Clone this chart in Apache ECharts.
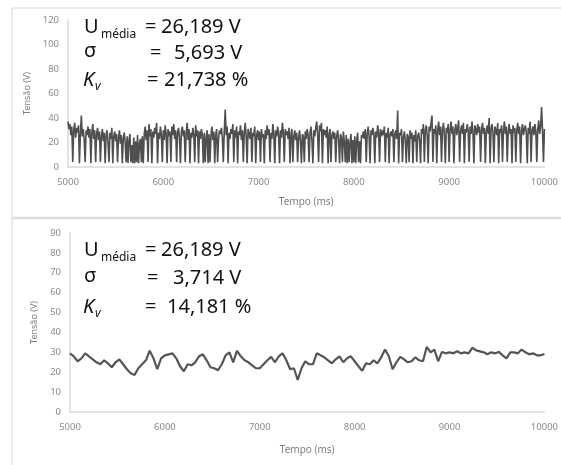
<!DOCTYPE html>
<html>
<head>
<meta charset="utf-8">
<script src="https://cdn.jsdelivr.net/npm/echarts@6/dist/echarts.min.js"></script>
<style>
  html, body { margin: 0; padding: 0; background: #fff; }
  #main { width: 561px; height: 465px; }
</style>
</head>
<body>
<div id="main"></div>
<script>
// tensao medida (sem filtro), uma amostra a cada 10 ms
var tensao_bruta = [
	37, 31, 35, 26, 33, 4, 30, 36, 24, 32,
	28, 34, 3, 27, 42, 25, 31, 22, 4, 30,
	26, 33, 24, 31, 3, 28, 35, 23, 30, 4,
	27, 32, 22, 29, 4, 25, 31, 21, 28, 3,
	26, 30, 20, 4, 28, 23, 32, 3, 25, 29,
	21, 27, 4, 24, 30, 19, 26, 3, 23, 28,
	20, 4, 25, 3, 22, 27, 4, 18, 3, 24,
	3, 21, 4, 26, 3, 19, 23, 4, 25, 3,
	27, 33, 22, 30, 4, 35, 25, 31, 3, 29,
	24, 32, 27, 36, 3, 28, 23, 33, 26, 4,
	30, 22, 34, 27, 3, 31, 25, 29, 4, 33,
	26, 35, 23, 30, 4, 28, 32, 24, 3, 29,
	33, 25, 30, 4, 27, 36, 22, 31, 3, 28,
	24, 32, 27, 4, 34, 25, 30, 3, 29, 23,
	31, 26, 3, 28, 4, 24, 30, 3, 27, 4,
	25, 33, 22, 29, 3, 26, 31, 4, 23, 30,
	27, 32, 24, 4, 29, 47, 26, 33, 3, 28,
	23, 31, 27, 35, 4, 30, 24, 33, 3, 29,
	26, 34, 22, 30, 4, 28, 36, 25, 3, 31,
	27, 23, 32, 4, 28, 25, 33, 3, 26, 30,
	22, 29, 4, 31, 24, 27, 3, 30, 23, 34,
	26, 31, 4, 28, 23, 35, 27, 3, 30, 25,
	33, 27, 3, 30, 24, 36, 28, 4, 31, 26,
	29, 23, 32, 3, 27, 31, 4, 25, 30, 22,
	28, 4, 24, 30, 21, 3, 27, 25, 4, 29,
	23, 31, 26, 4, 28, 33, 22, 3, 30, 25,
	32, 37, 27, 4, 34, 29, 36, 3, 31, 26,
	30, 24, 33, 3, 27, 31, 4, 26, 29, 23,
	28, 4, 25, 30, 22, 3, 27, 24, 4, 29,
	21, 4, 26, 3, 23, 4, 20, 27, 3, 22,
	4, 25, 3, 22, 28, 4, 21, 3, 26, 24,
	29, 23, 31, 4, 27, 33, 25, 3, 30, 26,
	32, 27, 3, 29, 24, 34, 28, 4, 31, 25,
	30, 26, 33, 4, 28, 24, 32, 3, 27, 29,
	25, 31, 4, 27, 30, 23, 46, 3, 28, 26,
	31, 4, 24, 29, 22, 3, 27, 25, 4, 30,
	23, 28, 3, 26, 21, 30, 4, 25, 28, 22,
	3, 31, 27, 35, 4, 30, 34, 26, 3, 33,
	29, 36, 42, 4, 31, 27, 34, 3, 30, 37,
	26, 33, 4, 30, 36, 27, 3, 32, 28, 35,
	4, 31, 37, 27, 33, 3, 30, 35, 26, 32,
	38, 4, 29, 34, 27, 36, 3, 31, 28, 35,
	30, 4, 33, 27, 37, 29, 3, 34, 31, 26,
	35, 28, 33, 4, 30, 36, 27, 32, 3, 29,
	34, 27, 40, 3, 31, 35, 28, 4, 33, 30,
	26, 36, 3, 31, 28, 34, 4, 30, 37, 27,
	33, 4, 29, 35, 27, 31, 3, 34, 28, 32,
	4, 30, 36, 27, 33, 3, 29, 35, 26, 31,
	34, 28, 3, 32, 27, 37, 4, 30, 33, 26,
	35, 29, 4, 31, 38, 27, 33, 49, 30, 4,
	31
],

// tensao filtrada, uma amostra a cada 40 ms
	tensao_filtrada = [
	29.5, 28, 25.5, 27, 29.5, 28, 26.5, 25, 24, 26,
	24.5, 22.5, 25, 26.5, 24, 21.5, 19.5, 18.6, 22, 24,
	26, 30.8, 27, 21.5, 27, 28.5, 29, 29.5, 27, 23,
	20.5, 24, 23.5, 25, 28, 29, 26, 22.5, 22, 21,
	24, 28.5, 30, 25, 30.7, 28, 26, 25, 23.5, 22,
	22, 24, 26, 27.7, 25, 28, 29.5, 26, 21.5, 22,
	16.1, 22, 25.5, 24, 24, 29.5, 28.5, 27.5, 26, 24.5,
	26.5, 28, 25, 27, 28, 25.5, 23, 20.7, 24.5, 24,
	26, 24.5, 27.5, 31.4, 28, 21.5, 25, 27.7, 26.5, 25,
	25.5, 27.5, 26, 25.5, 32.7, 30, 31.4, 25.5, 30.2, 29.5,
	30, 29.5, 30.5, 29.5, 30, 29.5, 32.3, 31, 30.5, 30,
	29, 30, 29.5, 30.2, 28.5, 27, 30, 30, 29.5, 31.4,
	30, 29, 29.5, 28.5, 28.5, 29.2
],

	tempo_inicio = 5000,
	passo_bruto = 10,
	passo_filtrado = 40,

// textos dos indicadores de cada grafico
	texto_topo = ["26,189 V", "5,693 V", "21,738 %"],
	texto_base = ["26,189 V", "3,714 V", "14,181 %"];

function monta_pontos(valores, passo){
	var pontos = [];
	for(var i = 0; i < valores.length; i++){
		pontos.push([tempo_inicio + i * passo, valores[i]]);
	}
	return pontos;
}

var cor_eixo = "#d9d9d9",
	cor_rotulo = "#8a8a8a",
	fonte = "Noto Sans";

function eixo_x(idx){
	return {
		type: "value", gridIndex: idx, min: 5000, max: 10000, interval: 1000,
		name: "Tempo (ms)", nameLocation: "middle", nameGap: idx == 0 ? 30 : 33,
		nameTextStyle: { color: "#7f7f7f", fontSize: 10, fontFamily: fonte },
		axisLine: { show: true, lineStyle: { color: cor_eixo, width: 1.5 } },
		axisTick: { show: false },
		splitLine: { show: false },
		axisLabel: { color: cor_rotulo, fontSize: 9.5, fontFamily: fonte, margin: 10,
			formatter: function(v){ return String(v); } }
	};
}

function eixo_y(idx, max, intervalo){
	return {
		type: "value", gridIndex: idx, min: 0, max: max, interval: intervalo,
		name: "Tensão (V)", nameLocation: "middle", nameGap: 31, nameRotate: 90,
		nameTextStyle: { color: "#7f7f7f", fontSize: 9, fontFamily: fonte },
		axisLine: { show: true, lineStyle: { color: cor_eixo, width: 1.5 } },
		axisTick: { show: false },
		splitLine: { show: false },
		axisLabel: { color: cor_rotulo, fontSize: 9.5, fontFamily: fonte, margin: 9 }
	};
}

// caixa de texto com U, sigma e K
function indicadores(valores, linhas, iguais, inicio_valor){
	var els = [];
	var estilo = { fill: "#111", font: "20px " + fonte, verticalAlign: "middle" };
	var sub = { fill: "#111", font: "12px " + fonte, verticalAlign: "middle" };

	els.push({ type: "text", x: 84, y: linhas[0], style: Object.assign({ text: "U" }, estilo) });
	els.push({ type: "text", x: 101, y: linhas[0] + 8, style: Object.assign({ text: "média" }, sub) });
	els.push({ type: "text", x: 84, y: linhas[1] - 2, style: Object.assign({ text: "σ" }, estilo) });
	els.push({ type: "text", x: 83, y: linhas[2], style: Object.assign({ text: "K" }, estilo, { font: "italic 20px " + fonte }) });
	els.push({ type: "text", x: 95, y: linhas[2] + 7, style: Object.assign({ text: "v" }, sub, { font: "italic 12px " + fonte }) });

	for(var i = 0; i < 3; i++){
		els.push({ type: "text", x: iguais[i], y: linhas[i], style: Object.assign({ text: "=" }, estilo) });
		els.push({ type: "text", x: inicio_valor[i], y: linhas[i], style: Object.assign({ text: valores[i] }, estilo) });
	}
	return els;
}

var myChart = echarts.init(document.getElementById("main"), null, { renderer: "canvas" });

var moldura = [
	{ type: "line", shape: { x1: 12, y1: 8, x2: 561, y2: 8 }, style: { stroke: "#e3e3e3", lineWidth: 1.5 } },
	{ type: "line", shape: { x1: 12, y1: 8, x2: 12, y2: 465 }, style: { stroke: "#e3e3e3", lineWidth: 1.5 } },
	{ type: "line", shape: { x1: 12, y1: 218, x2: 561, y2: 218 }, style: { stroke: "#dcdcdc", lineWidth: 2.5 } }
];

var option = {
	animation: false,
	backgroundColor: "#fff",
	grid: [
		{ left: 68, top: 20, width: 481, height: 147 },
		{ left: 70, top: 233, width: 475, height: 179 }
	],
	xAxis: [eixo_x(0), eixo_x(1)],
	yAxis: [eixo_y(0, 120, 20), eixo_y(1, 90, 10)],
	series: [
		{
			type: "line", xAxisIndex: 0, yAxisIndex: 0, showSymbol: false, symbol: "none",
			lineStyle: { color: "#4f4f4f", width: 1.6 },
			data: monta_pontos(tensao_bruta, passo_bruto)
		},
		{
			type: "line", xAxisIndex: 1, yAxisIndex: 1, showSymbol: false, symbol: "none",
			lineStyle: { color: "#555555", width: 2.2 },
			data: monta_pontos(tensao_filtrada, passo_filtrado)
		}
	],
	graphic: moldura
		.concat(indicadores(texto_topo, [27, 53, 80], [145, 150, 147], [161, 174, 164]))
		.concat(indicadores(texto_base, [250, 278, 307], [145, 147, 145], [161, 173, 167]))
};

myChart.setOption(option);
</script>
</body>
</html>
